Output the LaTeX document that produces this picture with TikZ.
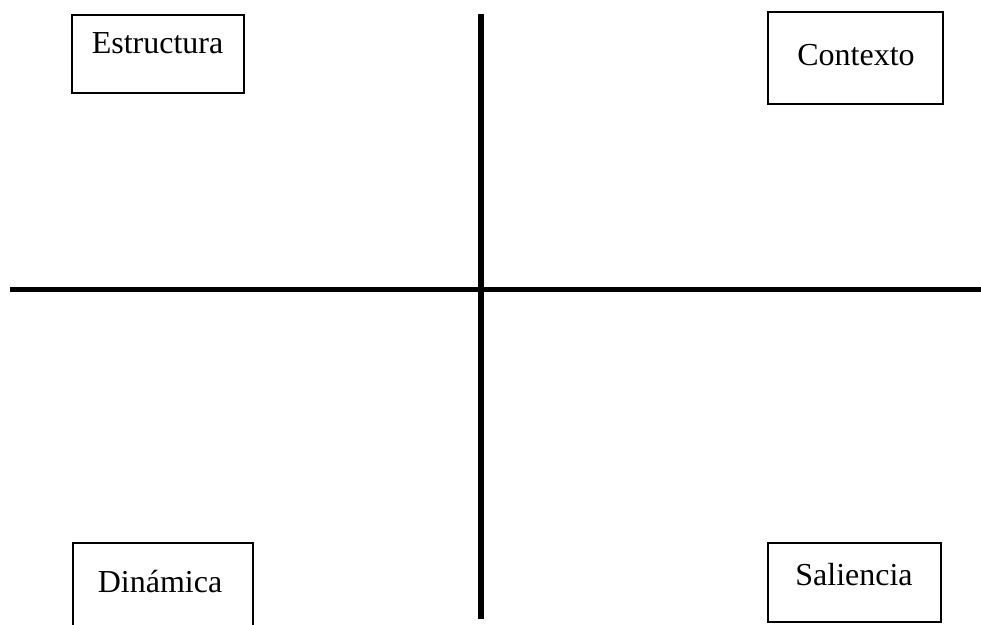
\documentclass[tikz,border=0pt]{standalone}
\usepackage{fontspec}
\setmainfont{Liberation Serif}
\begin{document}
\begin{tikzpicture}[x=1pt,y=-1pt,
  quadbox/.style={draw=black,line width=1.6pt,minimum width=#1,inner sep=0pt},
  axis/.style={line width=5.6pt,draw=black},
  lbl/.style={anchor=base,inner sep=0pt,font=\fontsize{32}{38}\selectfont}]
\useasboundingbox (0,0) rectangle (981,624);
% boxes
\node[quadbox=172pt,minimum height=78pt] (bE) at (158,54) {};
\node[quadbox=175pt,minimum height=92pt] (bC) at (855.5,58) {};
\node[quadbox=180pt,minimum height=100pt] (bD) at (163,593) {};
\node[quadbox=173pt,minimum height=79pt] (bS) at (854.5,582.5) {};
% labels
\node[lbl] (tE) at (157.5,53) {Estructura};
\node[lbl] (tC) at (856,65) {Contexto};
\node[lbl] (tD) at (160,592) {Dinámica};
\node[lbl] (tS) at (854,585) {Saliencia};
% axes
\coordinate (vt) at (481,14);
\coordinate (vb) at (481,619);
\coordinate (hl) at (10,289.5);
\coordinate (hr) at (981,289.5);
\draw[axis] (vt) -- (vb);
\draw[axis] (hl) -- (hr);
\end{tikzpicture}
\end{document}
